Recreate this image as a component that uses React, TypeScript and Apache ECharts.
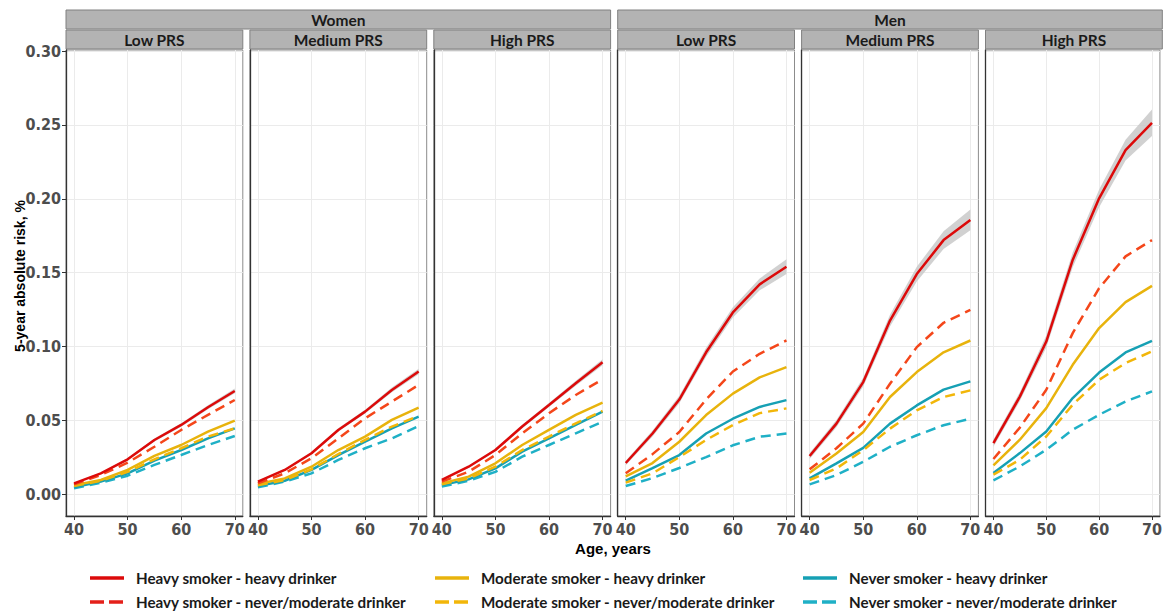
import React, { useEffect, useRef } from "react";
import * as echarts from "echarts";

const ages = [40, 45, 50, 55, 60, 65, 70];
const panelSex = ["Women", "Women", "Women", "Men", "Men", "Men"];
const panelPrs = ["Low PRS", "Medium PRS", "High PRS", "Low PRS", "Medium PRS", "High PRS"];
const xTicks = [40, 50, 60, 70];
const yTicks = [0, 0.05, 0.1, 0.15, 0.2, 0.25, 0.3];

// rows: Women Low, Women Medium, Women High, Men Low, Men Medium, Men High
const heavySmokerHeavyDrinker = [
  [0.0072, 0.014, 0.0235, 0.0366, 0.0468, 0.0588, 0.0698],
  [0.0084, 0.0163, 0.0276, 0.0434, 0.0558, 0.0705, 0.083],
  [0.0095, 0.0185, 0.0298, 0.0457, 0.0603, 0.075, 0.0893],
  [0.021, 0.041, 0.064, 0.096, 0.123, 0.142, 0.154],
  [0.0257, 0.0477, 0.0758, 0.1175, 0.149, 0.172, 0.1857],
  [0.0345, 0.066, 0.1033, 0.1586, 0.2003, 0.233, 0.2515],
];
const heavySmokerHeavyDrinkerCI = [
  [0.0005, 0.0006, 0.0008, 0.001, 0.0012, 0.0014, 0.0016],
  [0.0005, 0.0007, 0.0009, 0.0011, 0.0013, 0.0016, 0.0018],
  [0.0005, 0.0007, 0.0009, 0.0012, 0.0014, 0.0017, 0.002],
  [0.0015, 0.002, 0.0025, 0.003, 0.0035, 0.004, 0.005],
  [0.002, 0.0025, 0.003, 0.004, 0.005, 0.006, 0.007],
  [0.0025, 0.003, 0.004, 0.005, 0.006, 0.007, 0.009],
];
const heavySmokerNeverDrinker = [
  [0.0066, 0.0129, 0.0212, 0.032, 0.0434, 0.0536, 0.0637],
  [0.0072, 0.014, 0.0242, 0.0377, 0.0513, 0.0626, 0.0739],
  [0.0084, 0.0151, 0.0264, 0.0411, 0.0547, 0.0671, 0.0777],
  [0.014, 0.027, 0.042, 0.064, 0.083, 0.095, 0.104],
  [0.0167, 0.031, 0.0477, 0.0747, 0.0995, 0.116, 0.1247],
  [0.0237, 0.045, 0.0706, 0.109, 0.1394, 0.161, 0.172],
];
const moderateSmokerHeavyDrinker = [
  [0.006, 0.0095, 0.0163, 0.0258, 0.0332, 0.0423, 0.0497],
  [0.0068, 0.0106, 0.0185, 0.0298, 0.0389, 0.0502, 0.0585],
  [0.0072, 0.0118, 0.0208, 0.0332, 0.0434, 0.0536, 0.0619],
  [0.012, 0.021, 0.0354, 0.0535, 0.068, 0.079, 0.086],
  [0.0144, 0.0275, 0.042, 0.0657, 0.0826, 0.096, 0.104],
  [0.0194, 0.0368, 0.0582, 0.0875, 0.1124, 0.13, 0.141],
];
const moderateSmokerNeverDrinker = [
  [0.0054, 0.009, 0.015, 0.0235, 0.031, 0.0389, 0.0445],
  [0.0059, 0.0095, 0.0167, 0.0271, 0.0366, 0.0457, 0.0529],
  [0.0066, 0.0106, 0.0185, 0.0298, 0.0389, 0.0479, 0.0563],
  [0.0077, 0.014, 0.025, 0.0366, 0.0467, 0.0548, 0.058],
  [0.0095, 0.0173, 0.0297, 0.0443, 0.0567, 0.0657, 0.0702],
  [0.0131, 0.0232, 0.039, 0.0605, 0.0774, 0.0887, 0.0966],
];
const neverSmokerHeavyDrinker = [
  [0.0045, 0.0084, 0.014, 0.0226, 0.0298, 0.0377, 0.0445],
  [0.0054, 0.009, 0.0163, 0.0264, 0.0355, 0.0445, 0.0524],
  [0.006, 0.0099, 0.0174, 0.0287, 0.0377, 0.0468, 0.0558],
  [0.009, 0.0176, 0.0264, 0.041, 0.051, 0.059, 0.0636],
  [0.0106, 0.0207, 0.0313, 0.0477, 0.06, 0.0707, 0.0763],
  [0.0142, 0.0277, 0.0424, 0.065, 0.0823, 0.0959, 0.1038],
];
const neverSmokerNeverDrinker = [
  [0.0038, 0.0077, 0.0124, 0.0197, 0.0264, 0.0332, 0.0393],
  [0.0045, 0.0084, 0.014, 0.0231, 0.031, 0.0377, 0.046],
  [0.005, 0.009, 0.015, 0.0253, 0.0332, 0.0411, 0.049],
  [0.0054, 0.0108, 0.0176, 0.025, 0.033, 0.0388, 0.041],
  [0.0065, 0.0128, 0.0218, 0.032, 0.0398, 0.0466, 0.051],
  [0.0092, 0.0187, 0.03, 0.0435, 0.0537, 0.0627, 0.0695],
];

const seriesDefs = [
  { name: "Never smoker - never/moderate drinker", values: neverSmokerNeverDrinker, color: "#1fb0c6", dashed: true },
  { name: "Never smoker - heavy drinker", values: neverSmokerHeavyDrinker, color: "#16a0b4", dashed: false },
  { name: "Moderate smoker - never/moderate drinker", values: moderateSmokerNeverDrinker, color: "#f2b609", dashed: true },
  { name: "Moderate smoker - heavy drinker", values: moderateSmokerHeavyDrinker, color: "#e8b30c", dashed: false },
  { name: "Heavy smoker - never/moderate drinker", values: heavySmokerNeverDrinker, color: "#f4461a", dashed: true },
  { name: "Heavy smoker - heavy drinker", values: heavySmokerHeavyDrinker, color: "#dc0a0a", dashed: false },
];

const legendOrder = [
  ["Heavy smoker - heavy drinker", "Heavy smoker - never/moderate drinker"],
  ["Moderate smoker - heavy drinker", "Moderate smoker - never/moderate drinker"],
  ["Never smoker - heavy drinker", "Never smoker - never/moderate drinker"],
];

const PANEL_LEFT = 66;
const PANEL_STEP = 183.9;
const PANEL_W = 176.8;
const PANEL_TOP = 50;
const PANEL_H = 466;
const NARROW = "'Liberation Sans Narrow', 'DejaVu Sans Condensed', 'Arial Narrow', sans-serif";
const STRIP_FONT = "Lato, 'Open Sans', sans-serif";

export default function App() {
  const ref = useRef<HTMLDivElement>(null);
  useEffect(() => {
    document.body.style.margin = "0";
    if (!ref.current) return;
    const chart = echarts.init(ref.current, undefined, { renderer: "svg" });

    const grids: any[] = [];
    const xAxes: any[] = [];
    const yAxes: any[] = [];
    const series: any[] = [];
    const graphics: any[] = [];

    for (let p = 0; p < 6; p++) {
      const left = PANEL_LEFT + p * PANEL_STEP;
      grids.push({
        left,
        top: PANEL_TOP,
        width: PANEL_W,
        height: PANEL_H,
        show: true,
        borderColor: "#8c8c8c",
        borderWidth: 1,
        backgroundColor: "#ffffff",
      });
      xAxes.push({
        type: "value",
        gridIndex: p,
        min: 38.5,
        max: 71.5,
        axisLine: { show: true, onZero: false, lineStyle: { color: "#333333", width: 1.3 } },
        axisTick: { show: true, customValues: xTicks, length: 4, lineStyle: { color: "#333333" } },
        axisLabel: {
          customValues: xTicks,
          color: "#4d4d4d",
          fontSize: 16,
          fontWeight: "bold",
          fontFamily: NARROW,
          margin: 5,
        },
        splitLine: { show: true, lineStyle: { color: "#ebebeb", width: 1 } },
      });
      yAxes.push({
        type: "value",
        gridIndex: p,
        min: -0.0149,
        max: 0.3008,
        axisLine: { show: true, onZero: false, lineStyle: { color: "#333333", width: 1.3 } },
        axisTick: { show: p === 0, customValues: yTicks, length: 4, lineStyle: { color: "#333333" } },
        axisLabel: {
          show: p === 0,
          customValues: yTicks,
          formatter: (v: number) => v.toFixed(2),
          color: "#4d4d4d",
          fontSize: 16,
          fontWeight: "bold",
          fontFamily: NARROW,
          margin: 5,
        },
        splitLine: { show: true, lineStyle: { color: "#ebebeb", width: 1 } },
      });

      // confidence band for heavy smoker - heavy drinker
      const mean = heavySmokerHeavyDrinker[p];
      const hw = heavySmokerHeavyDrinkerCI[p];
      series.push({
        type: "custom",
        xAxisIndex: p,
        yAxisIndex: p,
        silent: true,
        z: 1,
        data: [[ages[0], mean[0]]],
        renderItem: (_params: any, api: any) => {
          const pts: number[][] = [];
          for (let i = 0; i < ages.length; i++) pts.push(api.coord([ages[i], mean[i] + hw[i]]));
          for (let i = ages.length - 1; i >= 0; i--) pts.push(api.coord([ages[i], mean[i] - hw[i]]));
          return { type: "polygon", shape: { points: pts }, style: { fill: "#c9c9c9", opacity: 0.85 } };
        },
      });

      seriesDefs.forEach((s, k) => {
        series.push({
          type: "line",
          name: s.name,
          xAxisIndex: p,
          yAxisIndex: p,
          symbol: "none",
          z: 2 + k,
          data: ages.map((a, i) => [a, s.values[p][i]]),
          lineStyle: { color: s.color, width: 2.5, type: s.dashed ? [10, 6] : "solid" },
        });
      });

      // PRS strip
      graphics.push({
        type: "rect",
        shape: { x: left, y: 30, width: PANEL_W, height: 19 },
        style: { fill: "#b3b3b3", stroke: "#808080", lineWidth: 1 },
      });
      graphics.push({
        type: "text",
        x: left + PANEL_W / 2,
        y: 40,
        style: {
          text: panelPrs[p],
          align: "center",
          verticalAlign: "middle",
          font: `bold 15.5px ${STRIP_FONT}`,
          fill: "#1a1a1a",
        },
      });
    }

    // sex strips
    [0, 3].forEach((p) => {
      const left = PANEL_LEFT + p * PANEL_STEP;
      const width = 2 * PANEL_STEP + PANEL_W;
      graphics.push({
        type: "rect",
        shape: { x: left, y: 10, width, height: 19 },
        style: { fill: "#b3b3b3", stroke: "#808080", lineWidth: 1 },
      });
      graphics.push({
        type: "text",
        x: left + width / 2,
        y: 20,
        style: {
          text: panelSex[p],
          align: "center",
          verticalAlign: "middle",
          font: `bold 15.5px ${STRIP_FONT}`,
          fill: "#1a1a1a",
        },
      });
    });

    // axis titles
    graphics.push({
      type: "text",
      x: 20,
      y: 276,
      rotation: Math.PI / 2,
      style: {
        text: "5-year absolute risk, %",
        align: "center",
        verticalAlign: "middle",
        font: "bold 14px 'Liberation Sans', Arial, sans-serif",
        fill: "#000000",
      },
    });
    graphics.push({
      type: "text",
      x: 613,
      y: 548,
      style: {
        text: "Age, years",
        align: "center",
        verticalAlign: "middle",
        font: "bold 15px 'Liberation Sans', Arial, sans-serif",
        fill: "#000000",
      },
    });

    // legend
    const colX = [90, 435, 803];
    const rowY = [578, 602];
    legendOrder.forEach((col, c) => {
      col.forEach((name, r) => {
        const def = seriesDefs.find((d) => d.name === name)!;
        graphics.push({
          type: "line",
          shape: { x1: colX[c], y1: rowY[r], x2: colX[c] + 34, y2: rowY[r] },
          style: {
            stroke: def.dashed ? (c === 0 ? "#e4201a" : def.color) : def.color,
            lineWidth: 3.4,
            lineDash: def.dashed ? [14, 5] : null,
          },
        });
        graphics.push({
          type: "text",
          x: colX[c] + 46,
          y: rowY[r],
          style: {
            text: name,
            align: "left",
            verticalAlign: "middle",
            font: `bold 15.2px ${STRIP_FONT}`,
            fill: "#1a1a1a",
          },
        });
      });
    });

    chart.setOption({
      animation: false,
      backgroundColor: "#ffffff",
      grid: grids,
      xAxis: xAxes,
      yAxis: yAxes,
      series,
      graphic: graphics,
    });
    return () => chart.dispose();
  }, []);
  return <div ref={ref} style={{ width: 1165, height: 614 }} />;
}
